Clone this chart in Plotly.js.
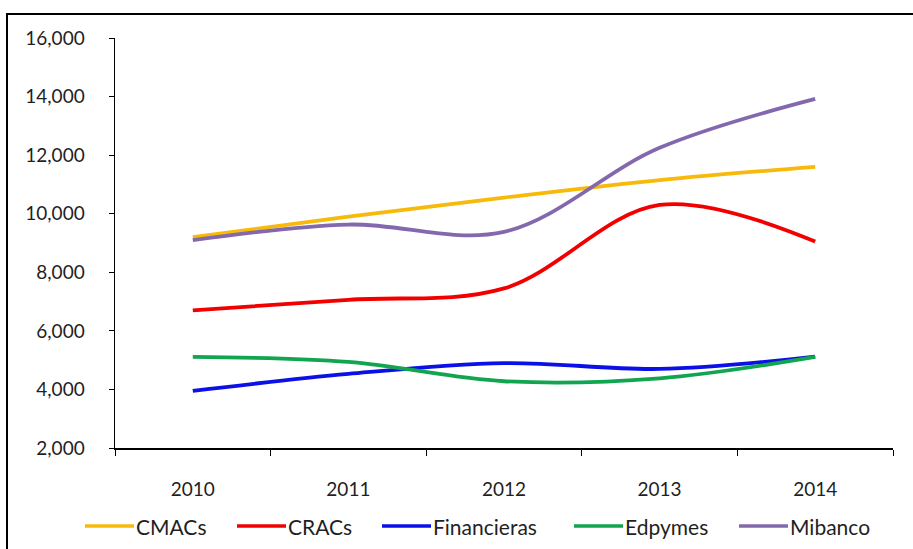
<!DOCTYPE html>
<html>
<head>
<meta charset="utf-8">
<script src="https://cdn.plot.ly/plotly-3.0.1.min.js"></script>
<style>
html,body{margin:0;padding:0;background:#fff;overflow:hidden;}
#chart{width:913px;height:549px;position:absolute;left:0;top:0;}
#frame{position:absolute;left:6px;top:13px;width:930px;height:560px;border:2px solid #000;box-sizing:border-box;pointer-events:none;}
</style>
</head>
<body>
<div id="chart"></div>
<div id="frame"></div>
<script>
const years = ['2010','2011','2012','2013','2014'];
const cmacs = [9200, 9900, 10550, 11150, 11600];
const cracs = [6700, 7060, 7450, 10300, 9050];
const financieras = [3950, 4530, 4900, 4700, 5120];
const edpymes = [5110, 4940, 4280, 4380, 5110];
const mibanco = [9100, 9630, 9380, 12250, 13920];
const yTicks = [2000, 4000, 6000, 8000, 10000, 12000, 14000, 16000];

const names = ['CMACs','CRACs','Financieras','Edpymes','Mibanco'];
const series = [cmacs, cracs, financieras, edpymes, mibanco];
const colors = ['#F7BA0B','#F20000','#0A10E6','#12A550','#8468AE'];

const traces = series.map((s,i)=>({
  x: years, y: s, name: names[i], type:'scatter', mode:'lines',
  line:{color:colors[i], width:3.8, shape:'spline', smoothing:1}
}));

// custom legend (long line samples like the original), placed under the axis
const M = {l:115, r:20, t:38, b:101};
const plotW = 913 - M.l - M.r, plotH = 549 - M.t - M.b;
const legendStartPx = [85, 237, 382, 574, 739];
const legendLineLen = 49, legendYpx = 526;
const px2x = p => (p - M.l) / plotW;
const py2y = p => (549 - M.b - p) / plotH;
const shapes = [], annotations = [];
names.forEach((n,i)=>{
  const x0 = legendStartPx[i];
  shapes.push({type:'line', xref:'paper', yref:'paper',
    x0:px2x(x0), x1:px2x(x0+legendLineLen), y0:py2y(legendYpx), y1:py2y(legendYpx),
    line:{color:colors[i], width:3.5}});
  annotations.push({xref:'paper', yref:'paper', x:px2x(x0+legendLineLen), y:py2y(legendYpx),
    xanchor:'left', yanchor:'middle', text:n, showarrow:false,
    font:{size:21, color:'#1f1f1f'}});
});

const layout = {
  width:913, height:549,
  margin:M,
  paper_bgcolor:'#fff', plot_bgcolor:'#fff',
  font:{family:'Lato, "Open Sans", sans-serif', size:19, color:'#1f1f1f'},
  showlegend:false,
  shapes:shapes, annotations:annotations,
  xaxis:{type:'category', range:[-0.5,4.5], tickson:'boundaries',
    showline:true, linecolor:'#000', linewidth:1.5, ticks:'outside', ticklen:6,
    tickcolor:'#000', showgrid:false, zeroline:false, ticklabelstandoff:24,
    tickfont:{size:19}},
  yaxis:{range:[2000,16000], tickvals:yTicks, tickformat:',d',
    showline:true, linecolor:'#000', linewidth:1.5, ticks:'outside', ticklen:5,
    tickcolor:'#000', showgrid:false, zeroline:false, ticklabelstandoff:20,
    tickfont:{size:19}}
};
Plotly.newPlot('chart', traces, layout, {displayModeBar:false, staticPlot:true});
</script>
</body>
</html>
